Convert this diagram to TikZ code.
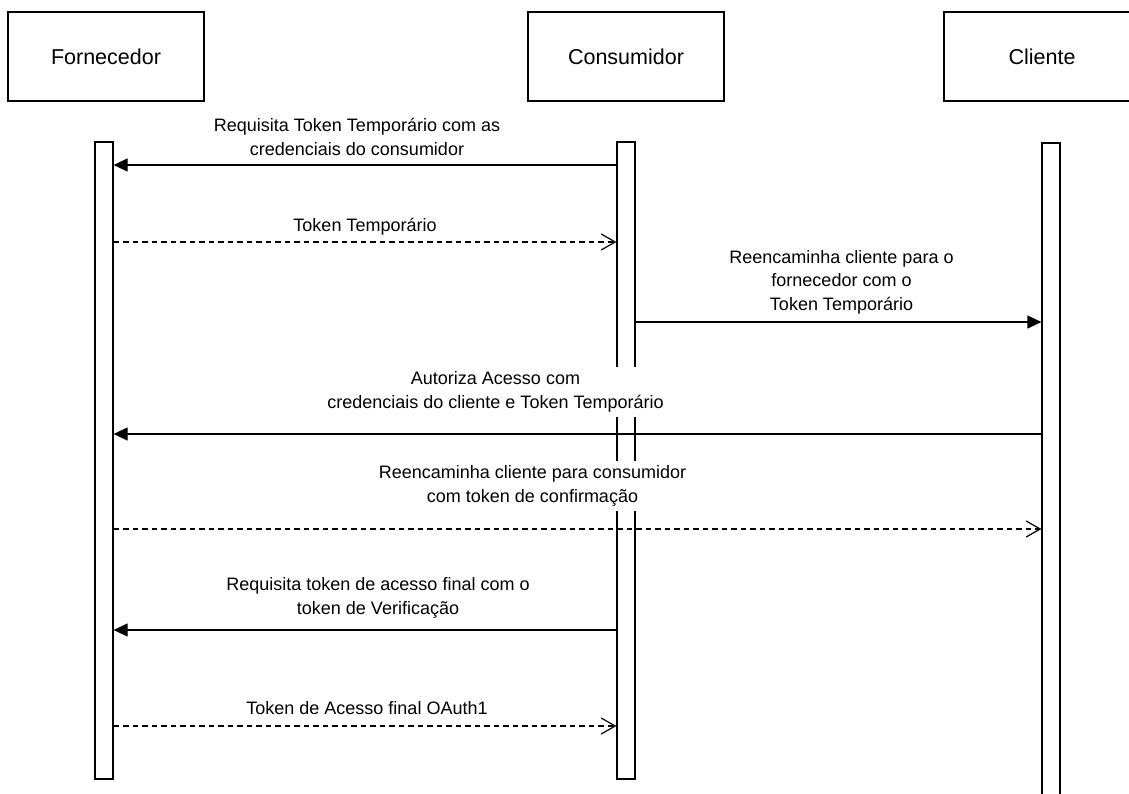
\documentclass[tikz,border=0pt]{standalone}
\usepackage{fontspec}
\setmainfont{Liberation Sans}
\usetikzlibrary{arrows.meta}
\begin{document}
\begin{tikzpicture}[x=1pt,y=-1pt,
  line width=1.2pt,
  header/.style={draw, fill=white, minimum width=196pt, minimum height=89pt, inner sep=0pt,
    font=\fontsize{21.5}{26}\selectfont},
  lifebar/.style={draw, fill=white, minimum width=18pt, inner sep=0pt},
  msglabel/.style={fill=white, align=center, inner xsep=2pt, inner ysep=4.5pt,
    font=\fontsize{18}{23.5}\selectfont},
  callmsg/.style={-{Triangle[length=14pt,width=13pt]}},
  replymsg/.style={dash pattern=on 5.5pt off 4pt, -{Straight Barb[length=14pt,width=16pt]}}
]
\clip (0,0) rectangle (1129,794);
\fill[white] (0,0) rectangle (1129,794);

% participants
\node[header] (hf) at (106,56.5) {Fornecedor};
\node[header] (hc) at (626,56.5) {Consumidor};
\node[header] (hk) at (1042,56.5) {Cliente};

% activation bars
\node[lifebar, minimum height=637pt] (bf) at (104,460.5) {};
\node[lifebar, minimum height=637pt] (bc) at (626,460.5) {};
\node[lifebar, minimum height=657pt] (bk) at (1051,471.5) {};

% message levels
\coordinate (y1) at (0,165);
\coordinate (y2) at (0,242);
\coordinate (y3) at (0,322);
\coordinate (y4) at (0,434);
\coordinate (y5) at (0,529);
\coordinate (y6) at (0,630);
\coordinate (y7) at (0,726);

% messages
\draw[callmsg]  (bc.west |- y1) -- (bf.east |- y1);
\draw[replymsg] (bf.east |- y2) -- (bc.west |- y2);
\draw[callmsg]  (bc.east |- y3) -- (bk.west |- y3);
\draw[callmsg]  (bk.west |- y4) -- (bf.east |- y4);
\draw[replymsg] (bf.east |- y5) -- (bk.west |- y5);
\draw[callmsg]  (bc.west |- y6) -- (bf.east |- y6);
\draw[replymsg] (bf.east |- y7) -- (bc.west |- y7);

% message labels
\node[msglabel] (l1) at (357,137) {Requisita Token Temporário com as\\credenciais do consumidor};
\node[msglabel] (l2) at (365,227) {Token Temporário};
\node[msglabel] (l3) at (841.5,282) {Reencaminha cliente para o\\fornecedor com o\\Token Temporário};
\node[msglabel] (l4) at (495.5,392) {Autoriza Acesso com\\credenciais do cliente e Token Temporário};
\node[msglabel] (l5) at (532.5,486) {Reencaminha cliente para consumidor\\com token de confirmação};
\node[msglabel] (l6) at (378,598) {Requisita token de acesso final com o\\token de Verificação};
\node[msglabel] (l7) at (367,708) {Token de Acesso final OAuth1};
\end{tikzpicture}
\end{document}
